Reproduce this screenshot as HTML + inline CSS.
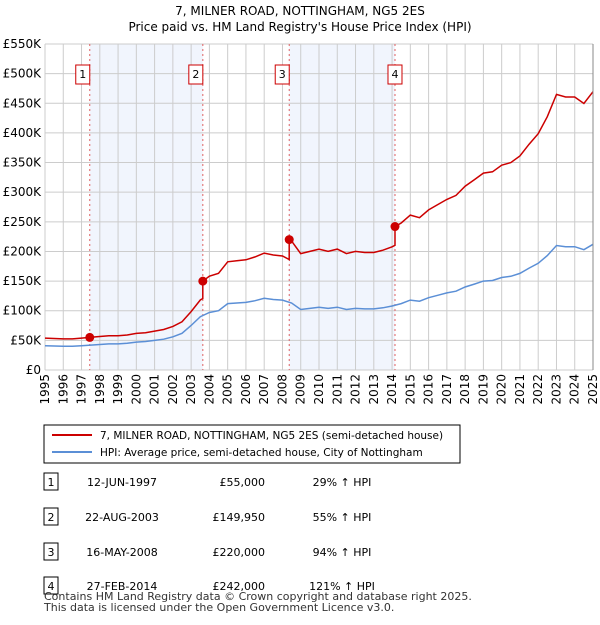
<!DOCTYPE html>
<html><head><meta charset="utf-8"><style>
body{margin:0;background:#fff;font-family:"Liberation Sans","DejaVu Sans",sans-serif;}
svg text{font-family:"DejaVu Sans","Liberation Sans",sans-serif;}
</style></head><body>
<svg id="c" width="600" height="620" xmlns="http://www.w3.org/2000/svg">
<text x="300" y="15" text-anchor="middle" font-size="12">7, MILNER ROAD, NOTTINGHAM, NG5 2ES</text>
<text x="300" y="31" text-anchor="middle" font-size="12">Price paid vs. HM Land Registry's House Price Index (HPI)</text>
<g id="plot"></g>
<rect x="44" y="425" width="416" height="38" fill="#fff" stroke="#000" stroke-width="1"/>
<line x1="52" y1="435" x2="92" y2="435" stroke="#cc0000" stroke-width="2"/>
<text x="100" y="439" font-size="10.5">7, MILNER ROAD, NOTTINGHAM, NG5 2ES (semi-detached house)</text>
<line x1="52" y1="452" x2="92" y2="452" stroke="#5b8fd6" stroke-width="2"/>
<text x="100" y="456" font-size="10.5">HPI: Average price, semi-detached house, City of Nottingham</text>
<g id="tbl" font-size="11"></g>
<text x="44" y="600" font-size="11" fill="#333">Contains HM Land Registry data © Crown copyright and database right 2025.</text>
<text x="44" y="611" font-size="11" fill="#333">This data is licensed under the Open Government Licence v3.0.</text>
</svg>
<script>
const years=[1995,1995.5,1996,1996.5,1997,1997.5,1998,1998.5,1999,1999.5,2000,2000.5,2001,2001.5,2002,2002.5,2003,2003.5,2004,2004.5,2005,2005.5,2006,2006.5,2007,2007.5,2008,2008.5,2009,2009.5,2010,2010.5,2011,2011.5,2012,2012.5,2013,2013.5,2014,2014.5,2015,2015.5,2016,2016.5,2017,2017.5,2018,2018.5,2019,2019.5,2020,2020.5,2021,2021.5,2022,2022.5,2023,2023.5,2024,2024.5,2025];
const hpi=[41,40.5,40,40,41,42,43,44,44,45,47,48,50,52,56,62,75,90,97,100,112,113,114,117,121,119,118,113,102,104,106,104,106,102,104,103,103,105,108,112,118,116,122,126,130,133,140,145,150,151,156,158,163,172,180,193,210,208,208,203,212];
const saleDates=[1997.45,2003.64,2008.37,2014.16];
const salePrices=[55000,149950,220000,242000];
const saleLabels=["12-JUN-1997","22-AUG-2003","16-MAY-2008","27-FEB-2014"];
const salePct=["29% ↑ HPI","55% ↑ HPI","94% ↑ HPI","121% ↑ HPI"];
const yTicks=[0,50,100,150,200,250,300,350,400,450,500,550];
const xTicks=[1995,1996,1997,1998,1999,2000,2001,2002,2003,2004,2005,2006,2007,2008,2009,2010,2011,2012,2013,2014,2015,2016,2017,2018,2019,2020,2021,2022,2023,2024,2025];

const X0=45,X1=593,Y0=370,Y1=44;
const xs=t=>X0+(t-1995)/30*(X1-X0);
const ys=v=>Y0-v/550*(Y0-Y1);
const NS="http://www.w3.org/2000/svg";
const g=document.getElementById('plot');
function mk(tag,at,parent){const e=document.createElementNS(NS,tag);for(const k in at)e.setAttribute(k,at[k]);(parent||g).appendChild(e);return e;}
function hpiAt(t){for(let i=0;i<years.length-1;i++){if(t<=years[i+1]){const f=(t-years[i])/(years[i+1]-years[i]);return hpi[i]+f*(hpi[i+1]-hpi[i]);}}return hpi[hpi.length-1];}

for(let k=0;k<saleDates.length;k+=2){
 const r=mk('rect',{x:xs(saleDates[k]),y:Y1,width:xs(saleDates[k+1])-xs(saleDates[k]),height:Y0-Y1,fill:'#eef3fc',opacity:0.8});
 
 
}
xTicks.forEach(t=>{const l=mk('line',{x1:xs(t),x2:xs(t),y1:Y1,y2:Y0,stroke:'#ccc','stroke-width':1});
 
 
 const tx=mk('text',{x:0,y:0,'font-size':12,'text-anchor':'end',transform:`translate(${xs(t)+4},374) rotate(-90)`});
 tx.textContent=t;
 
 
});
yTicks.forEach(v=>{const l=mk('line',{x1:X0,x2:X1,y1:ys(v),y2:ys(v),stroke:'#ccc','stroke-width':1});
 
 
 const tx=mk('text',{x:41,y:ys(v)+4,'font-size':12,'text-anchor':'end'});
 tx.textContent=v===0?'£0':'£'+v+'K';
 
 
});
saleDates.forEach((d,i)=>{
 const l=mk('line',{x1:xs(d),x2:xs(d),y1:Y1,y2:Y0,stroke:'#e06060','stroke-width':1,'stroke-dasharray':'2,3'});
 
 
 const bx=xs(d)-(i===0?10:(i===3?3:10));
 const r=mk('rect',{x:bx-4,y:65,width:14,height:19,fill:'#fff',stroke:'#cc0000'});
 
 
 const tx=mk('text',{x:bx+3,y:78,'font-size':11,'text-anchor':'middle'});tx.textContent=i+1;
 
 
});
let p='';
years.forEach((t,i)=>{p+=(i?'L':'M')+xs(t).toFixed(1)+','+ys(hpi[i]).toFixed(1);});
const hl=mk('path',{d:p,fill:'none',stroke:'#5b8fd6','stroke-width':1.5});


const ratios=saleDates.map((d,i)=>salePrices[i]/1000/hpiAt(d));
function ratioAt(t){let r=ratios[0];saleDates.forEach((d,i)=>{if(t>=d)r=ratios[i];});return r;}
const pts=[...years,...saleDates,...saleDates.map(d=>d-0.001)].sort((a,b)=>a-b);
let q='';
pts.forEach((t,i)=>{q+=(i?'L':'M')+xs(t).toFixed(1)+','+ys(hpiAt(t)*ratioAt(t)).toFixed(1);});
const pl=mk('path',{d:q,fill:'none',stroke:'#cc0000','stroke-width':1.5});


saleDates.forEach((d,i)=>{
 const c=mk('circle',{cx:xs(d),cy:ys(salePrices[i]/1000),r:4.5,fill:'#cc0000'});
 
 
});
mk('line',{x1:X1,x2:X1,y1:Y1,y2:Y0,stroke:'#888','stroke-width':1});
const tb=document.getElementById('tbl');
const rowY=[482,517,552,586];
saleDates.forEach((d,i)=>{
 const y=rowY[i];
 const r=mk('rect',{x:44,y:y-9,width:14,height:17,fill:'#fff',stroke:'#000'},tb);
 
 
 const cells=[[51,i+1,'middle'],[122,saleLabels[i],'middle'],[265,'£'+salePrices[i].toLocaleString('en-GB'),'end'],[342,salePct[i],'middle']];
 cells.forEach(c=>{const t=mk('text',{x:c[0],y:y+4,'text-anchor':c[2]},tb);t.textContent=c[1];
  
  });
});
</script>
</body></html>
